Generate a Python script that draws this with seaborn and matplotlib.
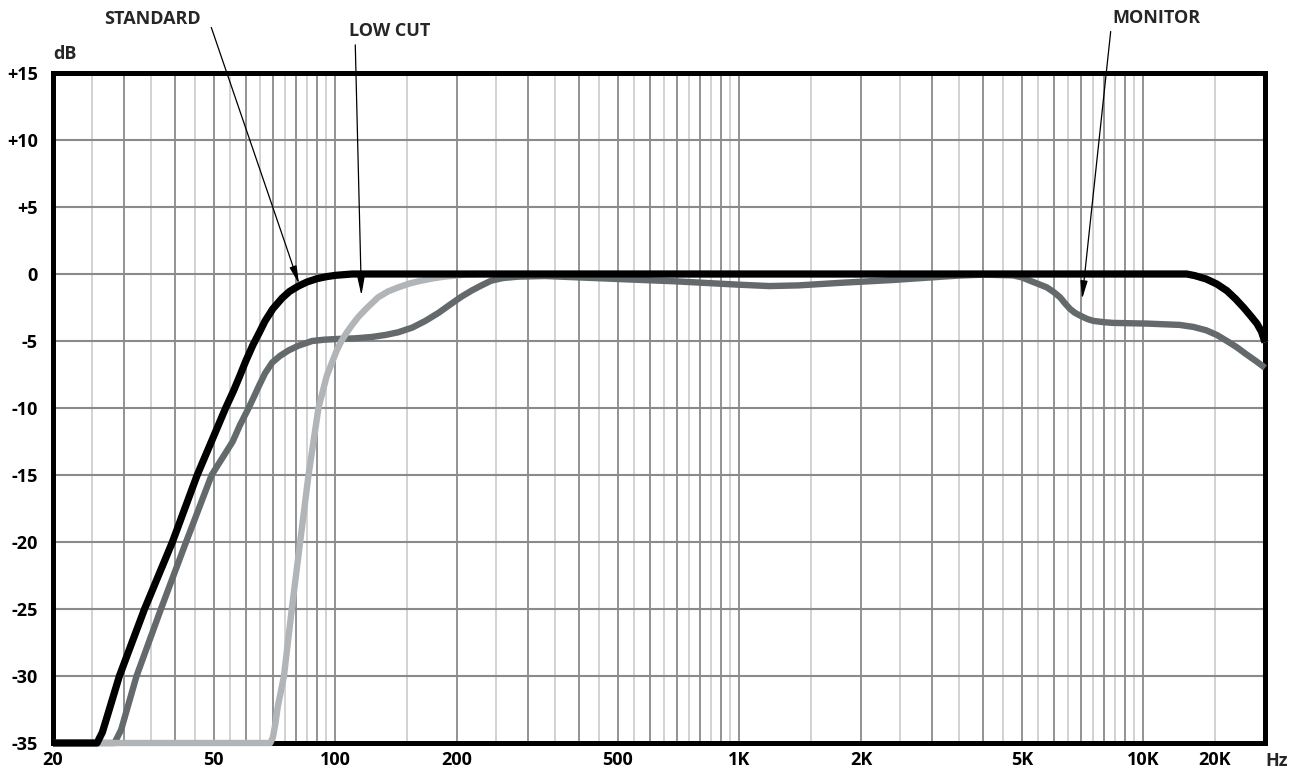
import numpy as np
import pandas as pd
import seaborn as sns
import matplotlib.pyplot as plt
from matplotlib.ticker import NullLocator

sns.set_theme(style="white")
plt.rcParams['font.family'] = ['Open Sans', 'Noto Sans', 'DejaVu Sans']
plt.rcParams['font.weight'] = 'bold'

# frequency response curves (Hz, dB)
standard_hz = [20, 25.7, 26.5, 27.5, 29.2, 33.7, 39.5, 45.5, 53.5, 56, 58, 60, 62.5, 65, 67, 70,
               73.8, 77, 81, 85, 90, 95, 100, 110,
               12800, 13400, 14300, 15200, 16100, 16900, 17700, 18400, 19100, 19600, 20000]
standard_db = [-35, -35, -34.2, -32.6, -30, -25, -20, -15, -10, -8.7, -7.6, -6.5, -5.3, -4.3, -3.5,
               -2.6, -1.8, -1.3, -0.9, -0.6, -0.35, -0.2, -0.1, 0,
               0, -0.12, -0.37, -0.75, -1.25, -1.85, -2.5, -3.1, -3.7, -4.3, -5.1]

lowcut_hz = [20, 69, 70, 71, 72, 74.6, 78, 81.8, 85.8, 90.8, 95.2, 100.8, 103.5, 106.5, 110, 114,
             120, 127.6, 135, 143, 153, 163, 175, 186, 209, 230,
             12800, 13400, 14300, 15200, 16100, 16900, 17700, 18400, 19100, 19600, 20000]
lowcut_db = [-35, -35, -34.6, -33.6, -32.3, -30, -25, -20, -15, -10, -7.6, -5.7, -5.0, -4.4, -3.8,
             -3.2, -2.5, -1.74, -1.3, -1.0, -0.7, -0.5, -0.32, -0.2, -0.05, 0,
             0, -0.12, -0.37, -0.75, -1.25, -1.85, -2.5, -3.1, -3.7, -4.3, -5.1]

monitor_hz = [20, 28.4, 29.5, 32.2, 37, 42.7, 49.4, 55.7, 58, 61, 63, 64.8, 67, 69.8, 73, 76.6,
              81, 87.6, 94, 101, 112, 123, 133, 143, 155, 167, 180, 194, 205, 217, 230, 243, 260,
              283, 330, 479, 698, 1000, 1186, 1400, 1800, 2390, 3000, 3480, 4000, 4750, 5000,
              5240, 5500, 5770, 6000, 6220, 6400, 6580, 6770, 6970, 7250, 7520, 8000, 8420,
              10200, 12300, 13300, 14300, 15200, 16100, 17000, 18000, 19000, 19600, 20000]
monitor_db = [-35, -35, -34, -30, -25, -20, -15, -12.5, -11.3, -10, -9.1, -8.3, -7.4, -6.6, -6.1,
              -5.7, -5.35, -5.0, -4.9, -4.85, -4.8, -4.7, -4.55, -4.35, -4.0, -3.5, -2.9, -2.2,
              -1.7, -1.25, -0.85, -0.5, -0.3,
              -0.2, -0.15, -0.35, -0.55, -0.8, -0.9, -0.85, -0.65, -0.45, -0.25, -0.12, -0.05,
              -0.1, -0.25,
              -0.5, -0.75, -1.0, -1.35, -1.74, -2.2, -2.6, -2.9, -3.1, -3.35, -3.5, -3.6, -3.65,
              -3.7, -3.8, -3.95, -4.2, -4.55, -5.0, -5.45, -6.0, -6.5, -6.8, -7.0]

# grid frequencies
grid_dark = [30, 40, 50, 60, 70, 80, 90, 100, 200, 300, 400, 500, 600, 700, 800, 900, 1000,
             2000, 3000, 4000, 5000, 6000, 7000, 8000, 9000, 10000]
grid_light = [25, 35, 45, 55, 65, 75, 85, 95, 150, 250, 350, 450, 550, 650, 750, 850, 950, 1500,
              2500, 3500, 4500, 5500, 6500, 7500, 8500, 9500, 15000]
db_lines = [-30, -25, -20, -15, -10, -5, 0, 5, 10]

x_ticks = [20, 50, 100, 200, 500, 1000, 2000, 5000, 10000, 15000]
x_labels = ['20', '50', '100', '200', '500', '1K', '2K', '5K', '10K', '20K']
y_ticks = [15, 10, 5, 0, -5, -10, -15, -20, -25, -30, -35]
y_labels = ['+15', '+10', '+5', '0', '-5', '-10', '-15', '-20', '-25', '-30', '-35']

fig = plt.figure(figsize=(12.96, 7.69), dpi=100)
ax = fig.add_axes([53 / 1296, 1 - 743 / 769, 1212 / 1296, 670 / 769])

for f in grid_light:
    ax.axvline(f, color='#cfcfcf', lw=1.3, zorder=1)
for f in grid_dark:
    ax.axvline(f, color='#8a8a8a', lw=1.3, zorder=1)
for d in db_lines:
    ax.axhline(d, color='#8a8a8a', lw=1.5, zorder=1)

curves = [
    (monitor_hz, monitor_db, '#646a6b', 4.6, 3),
    (lowcut_hz, lowcut_db, '#b1b5b7', 4.6, 4),
    (standard_hz, standard_db, 'black', 5.2, 5),
]
for hz, db, col, lw, z in curves:
    df = pd.DataFrame({'hz': hz, 'db': db})
    sns.lineplot(data=df, x='hz', y='db', ax=ax, color=col, lw=lw, sort=False,
                 estimator=None, zorder=z, clip_on=False, solid_capstyle='butt',
                 solid_joinstyle='round')

ax.set_xscale('log')
ax.set_xlim(20, 20000)
ax.set_ylim(-35, 15)
ax.set_xticks(x_ticks)
ax.set_xticklabels(x_labels)
ax.xaxis.set_minor_locator(NullLocator())
ax.set_yticks(y_ticks)
ax.set_yticklabels(y_labels)
ax.set_xlabel('')
ax.set_ylabel('')
ax.tick_params(axis='both', length=0, labelsize=13, colors='black')
ax.tick_params(axis='x', pad=5.5)
ax.tick_params(axis='y', pad=11)

for s in ax.spines.values():
    s.set_visible(True)
    s.set_color('black')
    s.set_linewidth(3.6)
    s.set_zorder(2.5)

ax.text(20, 16.4, 'dB', ha='left', va='center', fontsize=13, fontweight='bold')
ax.text(1.0, -0.013, 'Hz', transform=ax.transAxes, ha='left', va='top', fontsize=13,
        fontweight='bold')

arrow = dict(arrowstyle='-|>,head_length=0.9,head_width=0.18', color='black', lw=0.9,
             shrinkA=0, shrinkB=0, mutation_scale=12)
ax.text(35.2, 19.0, 'STANDARD', ha='center', va='center', fontsize=13, fontweight='bold')
ax.annotate('', xy=(81.3, -0.75), xytext=(49.3, 18.4), arrowprops=arrow, annotation_clip=False)
ax.text(136, 18.1, 'LOW CUT', ha='center', va='center', fontsize=13, fontweight='bold')
ax.annotate('', xy=(116, -1.6), xytext=(112, 17.1), arrowprops=arrow, annotation_clip=False)
ax.text(10800, 19.1, 'MONITOR', ha='center', va='center', fontsize=13, fontweight='bold')
ax.annotate('', xy=(7050, -1.87), xytext=(8300, 18.1), arrowprops=arrow, annotation_clip=False)

fig.savefig('out.png', dpi=100)
